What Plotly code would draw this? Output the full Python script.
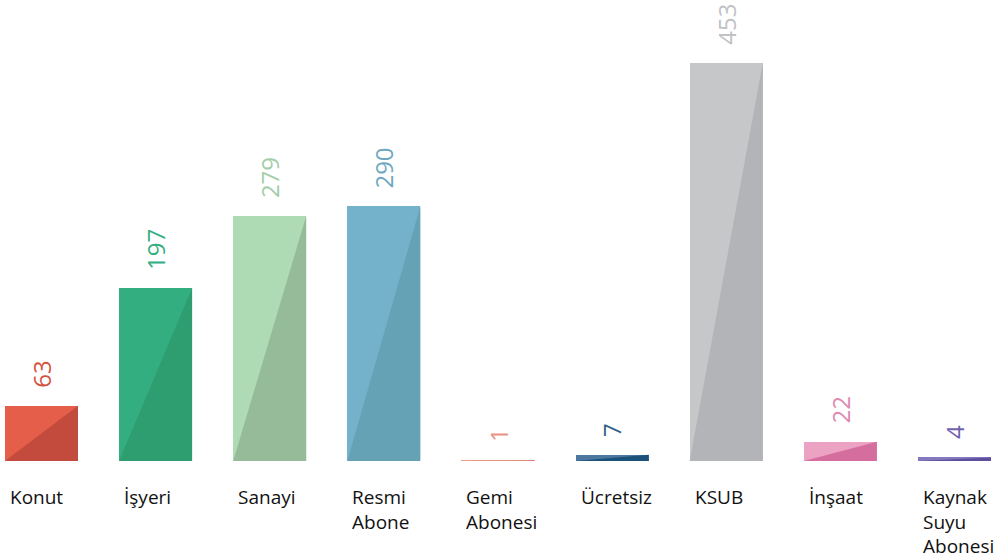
import plotly.graph_objects as go

categories = ["Konut", "İşyeri", "Sanayi", "Resmi<br>Abone", "Gemi<br>Abonesi",
              "Ücretsiz", "KSUB", "İnşaat", "Kaynak<br>Suyu<br>Abonesi"]
values = [63, 197, 279, 290, 1, 7, 453, 22, 4]
light_colors = ["#E55E4A", "#33AE80", "#AEDAB4", "#74B2CC", "#EE9A8C",
                "#4C78A0", "#C6C7C9", "#EBA2C3", "#8579BD"]
dark_colors = ["#C24B3D", "#2E9E70", "#96BB99", "#66A2B6", "#DA8576",
               "#1B527C", "#B3B4B8", "#D56E9E", "#5E4E9E"]
label_colors = ["#D4513F", "#33AE80", "#A3CDA8", "#6EA8C0", "#EA9486",
                "#2F5F88", "#C0C1C3", "#E08AB2", "#6F62AE"]

BAR_W = 0.64
xs = list(range(len(categories)))

fig = go.Figure()
fig.add_trace(go.Bar(x=xs, y=values, width=BAR_W, marker=dict(color=light_colors, line=dict(width=0)),
                     hoverinfo="skip", showlegend=False))

# darker triangle overlay: bottom-left -> bottom-right -> top-right
for x, v, c in zip(xs, values, dark_colors):
    x0, x1 = x - BAR_W / 2, x + BAR_W / 2
    fig.add_trace(go.Scatter(x=[x0, x1, x1, x0], y=[0, 0, v, 0], mode="lines",
                             fill="toself", fillcolor=c, line=dict(width=0),
                             hoverinfo="skip", showlegend=False))

for x, v, c in zip(xs, values, label_colors):
    fig.add_annotation(x=x, y=v, text=str(v), showarrow=False, textangle=-90,
                       xanchor="center", yanchor="bottom", yshift=16,
                       font=dict(family="Open Sans", size=24, color=c))

for x, cat in zip(xs, categories):
    fig.add_annotation(x=x - BAR_W / 2, y=0, text=cat, showarrow=False, align="left",
                       xanchor="left", yanchor="top", xshift=3, yshift=-21,
                       font=dict(family="Open Sans", size=19, color="#111111"))

px_per_cat = 114.125
x_start = -41.5 / px_per_cat
fig.update_layout(
    width=1000, height=560,
    margin=dict(l=0, r=0, t=0, b=99),
    paper_bgcolor="white", plot_bgcolor="white",
    bargap=0,
    xaxis=dict(range=[x_start, x_start + 1000 / px_per_cat], visible=False, fixedrange=True),
    yaxis=dict(range=[0, 461 / 0.8786], visible=False, fixedrange=True),
)

fig.write_html("out.html", config={"displayModeBar": False},
               post_script="document.body.style.margin='0';document.body.style.overflow='hidden';")
